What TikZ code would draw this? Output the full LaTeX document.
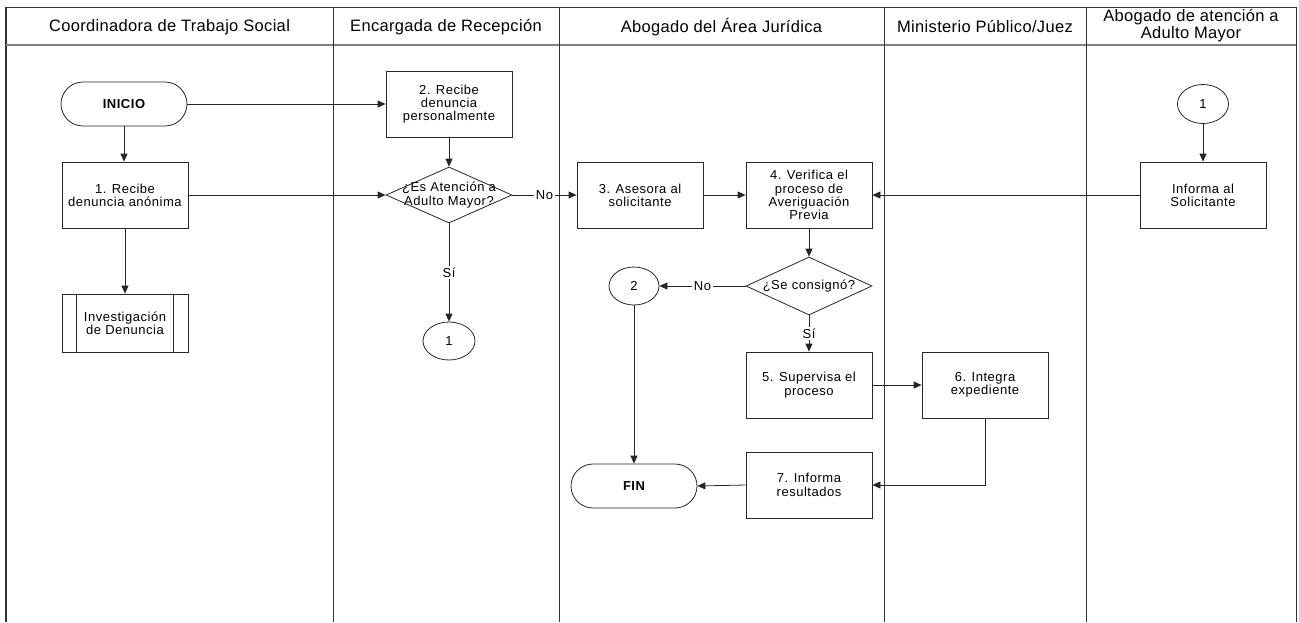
\documentclass[tikz,border=0pt]{standalone}
\usepackage{fontspec}
\setmainfont{Liberation Sans}
\newfontfamily\boxfont[LetterSpace=4]{Liberation Sans}
\newfontfamily\hdrfont[LetterSpace=2]{Liberation Sans}
\usetikzlibrary{shapes.geometric,arrows.meta}
\begin{document}
\begin{tikzpicture}[x=1pt,y=-1pt,
  lane/.style={draw=black!80, line width=0.9pt},
  hdr/.style={align=center, inner sep=0pt, font=\hdrfont\fontsize{16.5}{17}\selectfont},
  txt/.style={font=\boxfont\fontsize{13}{13.3}\selectfont},
  proc/.style={draw=black!85, line width=0.8pt, fill=white, minimum width=126pt, minimum height=66pt, inner sep=1pt, align=center, txt},
  term/.style={draw=black!85, line width=0.8pt, rounded corners=22pt, minimum width=126pt, minimum height=44pt, font=\boxfont\bfseries\fontsize{13}{14}\selectfont},
  dec/.style={draw=black!85, line width=0.8pt, diamond, minimum width=126pt, minimum height=56pt, inner sep=0pt},
  conn/.style={draw=black!85, line width=0.8pt, ellipse, minimum width=52pt, minimum height=38pt, inner sep=0pt, txt},
  flow/.style={draw=black!85, line width=0.8pt, -{Triangle[length=8pt,width=7pt]}},
  lbl/.style={fill=white, inner sep=1.5pt, txt}
]
\useasboundingbox (0,0) rectangle (1299,622);
% swimlanes
\draw[lane, line width=1.5pt] (6,622) -- (6,7);
\draw[lane] (6,7) -- (1296,7) -- (1296,622);
\draw[lane, draw=black!50, line width=1.5pt] (6,45) -- (1296,45);
\foreach \x in {333,559,884,1086} \draw[lane] (\x,7) -- (\x,622);
\node[hdr] (h1) at (169.5,27) {Coordinadora de Trabajo Social};
\node[hdr] (h2) at (446,27) {Encargada de Recepción};
\node[hdr] (h3) at (721.5,27) {Abogado del Área Jurídica};
\node[hdr] (h4) at (985,27) {Ministerio Público/Juez};
\node[hdr] (h5) at (1191,26) {Abogado de atención a\\Adulto Mayor};
% nodes
\node[term] (ini) at (124,104) {INICIO};
\node[proc] (b1) at (125,195) {1. Recibe\\denuncia anónima};
\node[proc, minimum height=58pt] (inv) at (125,323) {Investigación\\de Denuncia};
\draw[black!85, line width=0.8pt] ([xshift=15pt]inv.north west) -- ([xshift=15pt]inv.south west);
\draw[black!85, line width=0.8pt] ([xshift=-15pt]inv.north east) -- ([xshift=-15pt]inv.south east);
\node[proc] (b2) at (449,104) {2. Recibe\\denuncia\\personalmente};
\node[dec] (d1) at (449,195) {};
\node[align=center, txt, inner sep=0pt] (d1t) at (449,195) {¿Es Atención a\\Adulto Mayor?};
\node[conn] (c1a) at (449,341) {1};
\node[proc] (b3) at (640,195) {3. Asesora al\\solicitante};
\node[proc] (b4) at (809,195) {4. Verifica el\\proceso de\\Averiguación\\Previa};
\node[dec, minimum height=58pt] (d2) at (809,286) {};
\node[txt, inner sep=0pt] (d2t) at (809,286) {¿Se consignó?};
\node[conn, minimum width=50pt] (c2) at (634,286) {2};
\node[proc] (b5) at (809,385) {5. Supervisa el\\proceso};
\node[proc] (b7) at (809,485) {7. Informa\\resultados};
\node[term] (fin) at (634,486) {FIN};
\node[proc] (b6) at (985,385) {6. Integra\\expediente};
\node[conn, minimum width=51pt, minimum height=39pt] (c1b) at (1203,104) {1};
\node[proc] (inf) at (1203,195) {Informa al\\Solicitante};
% connectors
\draw[flow] (ini.east) -- (b2.west |- ini.east);
\draw[flow] (ini.south) -- (b1.north -| ini.south);
\draw[flow] (b1.east) -- (d1.west);
\draw[flow] (b1.south) -- (inv.north);
\draw[flow] (b2.south) -- (d1.north);
\draw[flow] (d1.south) -- node[lbl] {Sí} (c1a.north);
\draw[flow] (d1.east) -- node[lbl] {No} (b3.west);
\draw[flow] (b3.east) -- (b4.west);
\draw[flow] (inf.west) -- (b4.east);
\draw[flow] (c1b.south) -- (inf.north);
\draw[flow] (b4.south) -- (d2.north);
\draw[flow] (d2.west) -- node[lbl] {No} (c2.east);
\draw[flow] (d2.south) -- node[lbl] {Sí} (b5.north);
\draw[flow] (c2.south) -- (fin.north);
\draw[flow] (b5.east) -- (b6.west);
\draw[flow] (b6.south) |- (b7.east);
\draw[flow] (b7.west) -- (fin.east);
\end{tikzpicture}
\end{document}
